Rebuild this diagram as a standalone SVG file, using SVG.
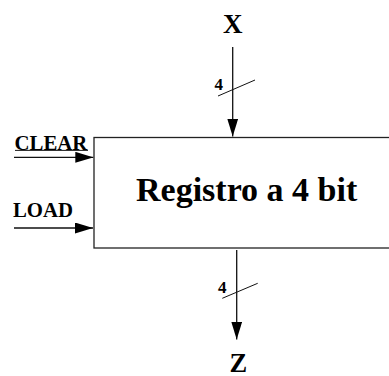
<svg xmlns="http://www.w3.org/2000/svg" width="389" height="376" viewBox="0 0 389 376">
  <style>
    .lbl { font-family: "Liberation Serif", "Times New Roman", serif; font-weight: bold; fill: #000; }
    .wire { stroke: #111; stroke-width: 1.3; fill: none; }
    .slash { stroke: #111; stroke-width: 1; fill: none; }
    .box { fill: #fff; stroke: #222; stroke-width: 1.3; }
  </style>
  <defs>
    <marker id="arrow" markerUnits="userSpaceOnUse" markerWidth="18" markerHeight="11" refX="18" refY="5.5" orient="auto">
      <path d="M0,0 L18,5.5 L0,11 z" fill="#000"/>
    </marker>
  </defs>
  <rect width="389" height="376" fill="#fff"/>

  <g id="register">
    <rect class="box" x="94" y="137.5" width="302" height="110.5"/>
    <text class="lbl" x="136" y="201" font-size="34">Registro a 4 bit</text>
  </g>

  <g id="input-x">
    <text class="lbl" x="232.7" y="32.7" font-size="27" text-anchor="middle">X</text>
  </g>

  <g id="output-z">
    <text class="lbl" x="238.3" y="371.5" font-size="26.5" text-anchor="middle">Z</text>
  </g>

  <g id="input-clear">
    <text class="lbl" x="14.5" y="149.5" font-size="20.8">CLEAR</text>
    <line x1="15" y1="150.4" x2="88" y2="150.4" stroke="#000" stroke-width="0.9"/>
  </g>

  <g id="input-load">
    <text class="lbl" x="13" y="216.5" font-size="20.8">LOAD</text>
  </g>

  <g id="connectors">
    <line class="wire" x1="232.7" y1="47" x2="232.7" y2="136.5" marker-end="url(#arrow)"/>
    <line class="slash" x1="218" y1="96" x2="255" y2="80"/>
    <text class="lbl" x="214.5" y="90" font-size="17">4</text>

    <line class="wire" x1="236.7" y1="250" x2="236.7" y2="339.5" marker-end="url(#arrow)"/>
    <line class="slash" x1="222.3" y1="298.3" x2="257.7" y2="283.3"/>
    <text class="lbl" x="218" y="292.5" font-size="17">4</text>

    <line class="wire" x1="14" y1="157.3" x2="93.3" y2="157.3" marker-end="url(#arrow)"/>
    <line class="wire" x1="14" y1="228" x2="93" y2="228" marker-end="url(#arrow)"/>
  </g>
</svg>
